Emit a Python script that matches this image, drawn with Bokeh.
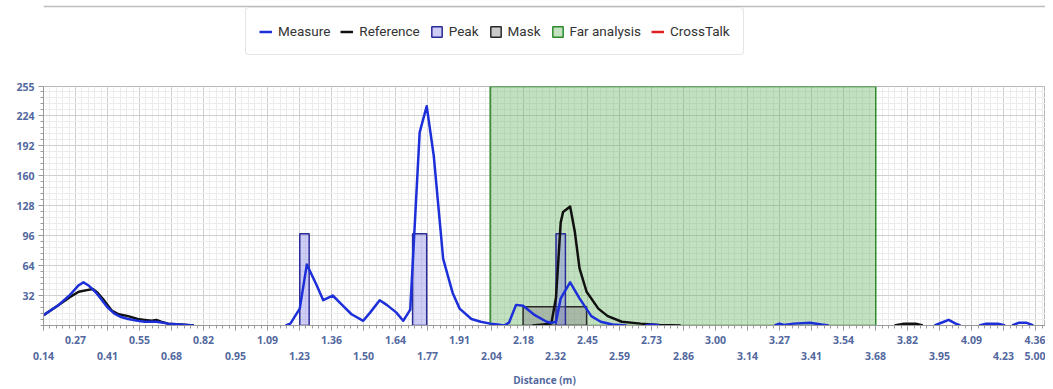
import numpy as np
from bokeh.plotting import figure
from bokeh.layouts import column
from bokeh.models import (Range1d, LinearAxis, FixedTicker, Grid, Legend,
                          LegendItem, Span)
from bokeh.embed import file_html
from bokeh.resources import INLINE

NaN = float("nan")

# ---------------- data ----------------
measure_x = [0.14, 0.20, 0.25, 0.29, 0.31, 0.33, 0.36, 0.38, 0.41, 0.44, 0.47, 0.50,
             0.54, 0.57, 0.62, 0.65, 0.67, 0.72, 0.78, 0.80,
             1.17, 1.19, 1.23, 1.26, 1.30, 1.33, 1.37, 1.41, 1.45, 1.50, 1.53, 1.57,
             1.60, 1.64, 1.67, 1.70, 1.74, 1.77, 1.80, 1.84, 1.88, 1.91, 1.96, 2.00,
             2.04, 2.07, 2.10, 2.12, 2.15, 2.18, 2.23, 2.28, 2.30, 2.32, 2.34, 2.38,
             2.42, 2.47, 2.51, 2.56, 2.62, 2.64,
             2.70, 2.73, 2.76, 2.78,
             3.25, 3.27, 3.29, 3.33, 3.40, 3.45, 3.48, 3.50,
             3.93, 3.97, 3.99, 4.02, 4.04, 4.06,
             4.12, 4.15, 4.20, 4.23, 4.24,
             4.26, 4.29, 4.32, 4.35, 4.37]
measure_y = [11, 21, 32, 43, 46, 43, 36, 30, 20, 13, 9, 7,
             5, 4, 4, 3, 2, 1, 0, NaN,
             0, 2, 18, 65, 44, 27, 32, 22, 12, 5, 14, 27,
             22, 14, 5, 17, 206, 234, 181, 71, 35, 18, 7, 4,
             2, 1, 0, 3, 22, 21, 11, 4, 3, 4, 29, 46,
             29, 10, 4, 1, 0, NaN,
             0, 1, 0, NaN,
             0, 2, 0.5, 2, 3, 1, 0, NaN,
             0, 4, 6, 2, 0, NaN,
             0, 2, 2, 0, NaN,
             0, 3, 3, 0, NaN]

reference_x = [0.14, 0.20, 0.25, 0.29, 0.33, 0.35, 0.37, 0.40, 0.43, 0.46, 0.50, 0.54,
               0.57, 0.60, 0.62, 0.64, 0.67, 0.72, 0.78, 0.80,
               2.22, 2.30, 2.32, 2.34, 2.35, 2.38, 2.40, 2.42, 2.45, 2.50, 2.54, 2.60,
               2.68, 2.76, 2.85, 2.87,
               3.76, 3.80, 3.85, 3.88]
reference_y = [11, 21, 30, 36, 38, 39, 35, 26, 16, 12, 10, 7,
               6, 5, 6, 4, 2, 1, 0, NaN,
               0, 2, 30, 110, 121, 127, 100, 61, 36, 18, 10, 4,
               2, 0.5, 0, NaN,
               0, 2, 2, 0]

peak_left = [1.23, 1.71, 2.32]
peak_right = [1.27, 1.77, 2.36]
peak_height = [98, 98, 98]

mask_left = [2.18]
mask_right = [2.45]
mask_height = [20]

far_left = [2.04]
far_right = [3.68]

# CrossTalk has no points in this capture
crosstalk_x = [NaN]
crosstalk_y = [NaN]

series_names = ["Measure", "Reference", "Peak", "Mask", "Far analysis", "CrossTalk"]

x_tick_labels = ["0.14", "0.27", "0.41", "0.55", "0.68", "0.82", "0.95", "1.09",
                 "1.23", "1.36", "1.50", "1.64", "1.77", "1.91", "2.04", "2.18",
                 "2.32", "2.45", "2.59", "2.73", "2.86", "3.00", "3.14", "3.27",
                 "3.41", "3.54", "3.68", "3.82", "3.95", "4.09", "4.23", "4.36"]
x_end_label = "5.00"
y_tick_labels = ["32", "64", "96", "128", "160", "192", "224", "255"]

# ---------------- styles ----------------
MEAS_STYLE = dict(line_color="#1c2fd8", line_width=2.5, line_join="round")
REF_STYLE = dict(line_color="#111111", line_width=2.5, line_join="round")
CROSS_STYLE = dict(line_color="#e02020", line_width=2.5)
FAR_STYLE = dict(fill_color="#5fb05a", fill_alpha=0.38, line_color="#2f8a2f", line_width=1.5)
MASK_STYLE = dict(fill_color="#8a8a8a", fill_alpha=0.45, line_color="#2a2a2a", line_width=1.5)
PEAK_STYLE = dict(fill_color="#7c7ce6", fill_alpha=0.38, line_color="#2b2b96", line_width=1.5)

LABEL_COLOR = "#52689e"
FONT = "Open Sans"

# ---------------- main chart ----------------
TOTAL_W = 1045
TOP_H = 78
FRAME_W = 1002
FRAME_H = 239
X0 = float(x_tick_labels[0])
x_step = (float(x_tick_labels[-1]) - X0) / (len(x_tick_labels) - 1)
PX_PER_UNIT = 235.1
X1 = X0 + FRAME_W / PX_PER_UNIT
Y_MAX = float(y_tick_labels[-1])

p = figure(frame_width=FRAME_W, frame_height=FRAME_H,
           x_range=Range1d(X0, X1), y_range=Range1d(0, Y_MAX),
           x_axis_type=None, y_axis_type=None,
           output_backend="svg", toolbar_location=None,
           min_border_left=43, min_border_right=0, min_border_top=8,
           min_border_bottom=0)
p.background_fill_color = "white"
p.border_fill_color = "white"
p.outline_line_color = "#b8b8b8"

x_ticks = [X0 + i * x_step for i in range(len(x_tick_labels))]
x_minor = [X0 + k * x_step / 5 for k in range(int((X1 - X0) / (x_step / 5)) + 1)]
x_ticker = FixedTicker(ticks=x_ticks, minor_ticks=x_minor)
y_ticks = [float(v) for v in y_tick_labels]
y_minor = list(np.arange(0, Y_MAX + 0.1, 6.4))
y_ticker = FixedTicker(ticks=y_ticks, minor_ticks=y_minor)

for dim, tk in ((0, x_ticker), (1, y_ticker)):
    p.add_layout(Grid(dimension=dim, ticker=tk,
                      grid_line_color="#cfcfcf", grid_line_width=1,
                      minor_grid_line_color="#ececec", minor_grid_line_width=1))

def style_axis(ax):
    ax.major_label_text_font = FONT
    ax.major_label_text_font_style = "bold"
    ax.major_label_text_font_size = "10.5px"
    ax.major_label_text_color = LABEL_COLOR
    ax.axis_line_color = "#9a9a9a"
    ax.major_tick_line_color = "#9a9a9a"
    ax.minor_tick_line_color = "#9a9a9a"
    ax.major_tick_in = 0
    ax.minor_tick_in = 0
    ax.major_tick_out = 5
    ax.minor_tick_out = 3

yax = LinearAxis(ticker=y_ticker,
                 major_label_overrides={float(v): v for v in y_tick_labels})
style_axis(yax)
yax.major_label_standoff = 4
p.add_layout(yax, "left")

# upper row of x labels (odd indices)
xax1 = LinearAxis(ticker=x_ticker)
xax1.major_label_overrides = {t: (lab if i % 2 == 1 else "")
                              for i, (t, lab) in enumerate(zip(x_ticks, x_tick_labels))}
style_axis(xax1)
xax1.major_label_standoff = 5
p.add_layout(xax1, "below")

# lower row of x labels (even indices + end label)
end_pos = X1 - 4 / PX_PER_UNIT
low_ticks = [t for i, t in enumerate(x_ticks) if i % 2 == 0] + [end_pos]
low_labels = [l for i, l in enumerate(x_tick_labels) if i % 2 == 0] + [x_end_label]
xax2 = LinearAxis(ticker=FixedTicker(ticks=low_ticks, minor_ticks=[]))
xax2.major_label_overrides = dict(zip(low_ticks, low_labels))
style_axis(xax2)
xax2.axis_line_color = None
xax2.major_tick_line_color = None
xax2.minor_tick_line_color = None
xax2.major_tick_out = 0
xax2.minor_tick_out = 0
xax2.major_label_standoff = 5
xax2.axis_label = "Distance (m)"
xax2.axis_label_text_font = FONT
xax2.axis_label_text_font_style = "bold"
xax2.axis_label_text_font_size = "10px"
xax2.axis_label_text_color = LABEL_COLOR
xax2.axis_label_standoff = 10
p.add_layout(xax2, "below")

p.quad(left=far_left, right=far_right, bottom=[0] * len(far_left),
       top=[Y_MAX] * len(far_left), **FAR_STYLE)
p.quad(left=mask_left, right=mask_right, bottom=[0] * len(mask_left),
       top=mask_height, **MASK_STYLE)
p.quad(left=peak_left, right=peak_right, bottom=[0] * len(peak_left),
       top=peak_height, **PEAK_STYLE)
p.line(reference_x, reference_y, **REF_STYLE)
p.line(measure_x, measure_y, **MEAS_STYLE)
p.line(crosstalk_x, crosstalk_y, **CROSS_STYLE)

# ---------------- legend strip above the chart ----------------
lg = figure(width=TOTAL_W, height=TOP_H, x_range=Range1d(0, 1),
            y_range=Range1d(0, TOP_H), x_axis_type=None, y_axis_type=None,
            output_backend="svg", toolbar_location=None, min_border=0)
lg.outline_line_color = None
lg.background_fill_color = "white"
lg.border_fill_color = "white"
lg.add_layout(Span(location=TOP_H - 6, dimension="width",
                   line_color="#bdbdbd", line_width=1.5))

# legend swatches only (no visible points: single NaN entries)
r_meas = lg.line([NaN], [NaN], **MEAS_STYLE)
r_ref = lg.line([NaN], [NaN], **REF_STYLE)
r_peak = lg.quad(left=[NaN], right=[NaN], bottom=[NaN], top=[NaN], **PEAK_STYLE)
r_mask = lg.quad(left=[NaN], right=[NaN], bottom=[NaN], top=[NaN], **MASK_STYLE)
r_far = lg.quad(left=[NaN], right=[NaN], bottom=[NaN], top=[NaN], **FAR_STYLE)
r_cross = lg.line(crosstalk_x, crosstalk_y, **CROSS_STYLE)
renderers = [r_meas, r_ref, r_peak, r_mask, r_far, r_cross]

legend = Legend(items=[LegendItem(label=n, renderers=[r])
                       for n, r in zip(series_names, renderers)],
                orientation="horizontal", location=(202, TOP_H - 55))
legend.label_text_font = "Roboto"
legend.label_text_font_size = "13.5px"
legend.label_text_color = "#333333"
legend.glyph_width = 13
legend.glyph_height = 13
legend.label_standoff = 6
legend.spacing = 10
legend.padding = 13
legend.label_height = 20
legend.border_line_color = "#cccccc"
legend.border_line_width = 1
legend.background_fill_color = "white"
legend.background_fill_alpha = 1.0
if "border_radius" in Legend.properties():
    legend.border_radius = 4
lg.add_layout(legend)

layout = column(lg, p, spacing=0)
open("out.html", "w").write(file_html(layout, INLINE))
